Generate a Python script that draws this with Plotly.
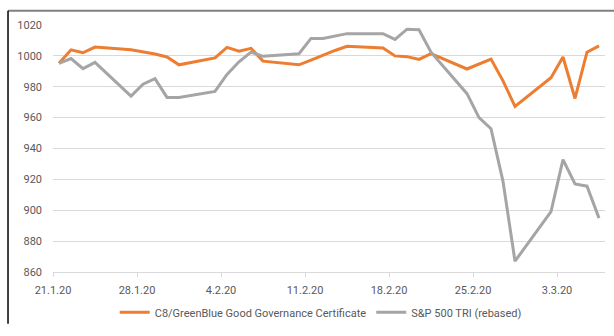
import plotly.graph_objects as go

dates = ["2020-01-21", "2020-01-22", "2020-01-23", "2020-01-24",
         "2020-01-27", "2020-01-28", "2020-01-29", "2020-01-30", "2020-01-31",
         "2020-02-03", "2020-02-04", "2020-02-05", "2020-02-06", "2020-02-07",
         "2020-02-10", "2020-02-11", "2020-02-12", "2020-02-13", "2020-02-14",
         "2020-02-17", "2020-02-18", "2020-02-19", "2020-02-20", "2020-02-21",
         "2020-02-24", "2020-02-25", "2020-02-26", "2020-02-27", "2020-02-28",
         "2020-03-02", "2020-03-03", "2020-03-04", "2020-03-05", "2020-03-06"]

certificate = [995.2, 1003.9, 1002.0, 1005.7,
               1004.0, 1002.8, 1001.2, 999.3, 994.2,
               998.7, 1005.5, 1003.0, 1004.9, 996.6,
               994.2, 997.3, 1000.5, 1003.5, 1006.2,
               1005.1, 1000.0, 999.5, 997.7, 1001.4,
               991.5, 994.7, 997.9, 983.8, 967.3,
               985.9, 999.3, 972.4, 1002.4, 1006.5]

sp500 = [995.2, 998.3, 991.7, 995.8,
         973.9, 981.7, 985.3, 973.1, 973.1,
         977.0, 988.0, 996.2, 1002.4, 999.7,
         1001.4, 1011.3, 1011.3, 1013.0, 1014.4,
         1014.4, 1010.7, 1017.3, 1016.9, 1002.4,
         975.5, 960.0, 952.8, 918.7, 867.0,
         899.1, 932.8, 917.0, 915.6, 894.9]

tick_dates = ["2020-01-21", "2020-01-28", "2020-02-04", "2020-02-11",
              "2020-02-18", "2020-02-25", "2020-03-03"]
tick_labels = ["21.1.20", "28.1.20", "4.2.20", "11.2.20", "18.2.20", "25.2.20", "3.3.20"]

x = [d + " 12:00" for d in dates]

FONT = "Roboto, Arial, sans-serif"

fig = go.Figure()
fig.add_trace(go.Scatter(x=x, y=certificate, mode="lines",
                         name="C8/GreenBlue Good Governance Certificate",
                         line=dict(color="#ED7D31", width=3)))
fig.add_trace(go.Scatter(x=x, y=sp500, mode="lines",
                         name="S&P 500 TRI (rebased)",
                         line=dict(color="#A5A5A5", width=3)))

fig.update_layout(
    width=614, height=336,
    margin=dict(l=53, r=9, t=25, b=53),
    paper_bgcolor="white", plot_bgcolor="white",
    font=dict(family=FONT, size=11, color="#595959"),
    showlegend=True,
    legend=dict(orientation="h", x=0.485, xanchor="center", y=-0.163, yanchor="middle",
                font=dict(size=11, color="#595959"), itemwidth=30,
                bgcolor="rgba(0,0,0,0)"),
    xaxis=dict(type="date", range=["2020-01-21", "2020-03-07"],
               tickvals=tick_dates, ticktext=tick_labels,
               showgrid=False, zeroline=False,
               showline=True, linecolor="#d9d9d9", linewidth=1,
               ticks="outside", ticklen=4, tickcolor="#d9d9d9",
               ticklabelstandoff=4,
               tickfont=dict(size=11, color="#595959")),
    yaxis=dict(range=[860, 1020], dtick=20, tick0=860,
               showgrid=True, gridcolor="#d9d9d9", gridwidth=1,
               zeroline=False, showline=False, ticks="",
               ticklabelstandoff=10,
               tickfont=dict(size=11, color="#595959")),
    shapes=[
        dict(type="line", xref="paper", yref="paper",
             x0=-0.0815, x1=1.02, y0=1.058, y1=1.058,
             line=dict(color="#808080", width=2)),
        dict(type="line", xref="paper", yref="paper",
             x0=-0.0815, x1=-0.0815, y0=1.058, y1=-0.21,
             line=dict(color="#000000", width=1.5)),
    ],
)

fig.write_html("out.html")
